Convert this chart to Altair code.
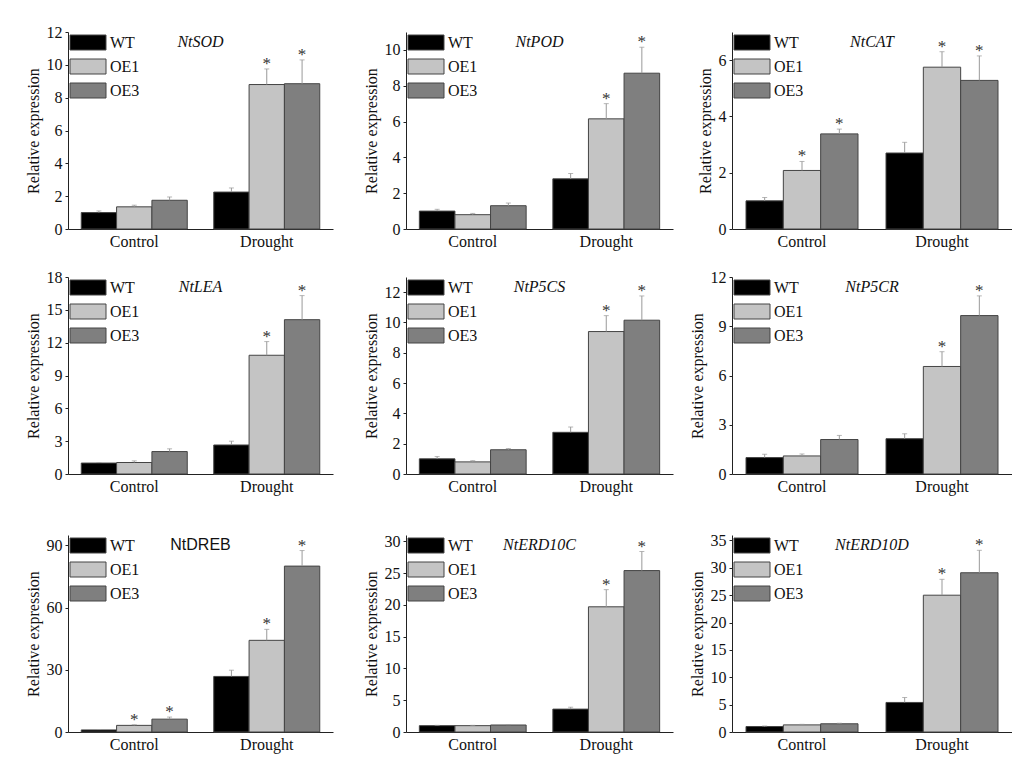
import altair as alt
import pandas as pd

genes = ["NtSOD", "NtPOD", "NtCAT", "NtLEA", "NtP5CS", "NtP5CR", "NtDREB", "NtERD10C", "NtERD10D"]
conditions = ["Control", "Drought"]
genotypes = ["WT", "OE1", "OE3"]
bar_colors = ["#000000", "#c4c4c4", "#7f7f7f"]

# order inside each list: Control WT, OE1, OE3, Drought WT, OE1, OE3
mean_vals = [
    [1.0, 1.35, 1.75, 2.25, 8.8, 8.85],
    [1.0, 0.8, 1.3, 2.8, 6.15, 8.7],
    [1.0, 2.08, 3.38, 2.7, 5.75, 5.28],
    [1.0, 1.05, 2.05, 2.65, 10.85, 14.1],
    [1.0, 0.8, 1.6, 2.75, 9.4, 10.15],
    [1.0, 1.1, 2.1, 2.15, 6.55, 9.65],
    [1.0, 3.2, 6.2, 26.8, 44.2, 80.0],
    [1.0, 1.0, 1.1, 3.6, 19.7, 25.4],
    [1.0, 1.3, 1.5, 5.4, 25.0, 29.1],
]
err_tops = [
    [1.1, 1.45, 1.95, 2.5, 9.75, 10.3],
    [1.1, 0.87, 1.45, 3.1, 7.0, 10.15],
    [1.12, 2.4, 3.55, 3.08, 6.3, 6.15],
    [1.05, 1.2, 2.3, 3.0, 12.1, 16.3],
    [1.15, 0.88, 1.68, 3.1, 10.45, 11.75],
    [1.2, 1.22, 2.35, 2.45, 7.45, 10.85],
    [1.2, 3.5, 7.2, 29.8, 49.5, 87.5],
    [1.05, 1.05, 1.15, 3.9, 22.4, 28.4],
    [1.1, 1.4, 1.6, 6.3, 27.9, 33.2],
]
stars = [
    [0, 0, 0, 0, 1, 1],
    [0, 0, 0, 0, 1, 1],
    [0, 1, 1, 0, 1, 1],
    [0, 0, 0, 0, 1, 1],
    [0, 0, 0, 0, 1, 1],
    [0, 0, 0, 0, 1, 1],
    [0, 1, 1, 0, 1, 1],
    [0, 0, 0, 0, 1, 1],
    [0, 0, 0, 0, 1, 1],
]
y_max = [12, 11, 7, 18, 13, 12, 95, 31, 36]
y_step = [2, 2, 2, 3, 2, 3, 30, 5, 5]

SERIF = "Liberation Serif"
PANEL_H = 197


def panel(i, width, extent):
    rows = []
    k = 0
    for c in conditions:
        for g in genotypes:
            rows.append({"cond": c, "geno": g, "mean": mean_vals[i][k],
                         "top": err_tops[i][k], "sig": stars[i][k]})
            k += 1
    df = pd.DataFrame(rows)
    base = alt.Chart(df)
    x = alt.X("cond:N", sort=conditions, title=None,
              scale=alt.Scale(paddingInner=0.2, paddingOuter=0.1),
              axis=alt.Axis(labelAngle=0, ticks=False, tickSize=0, labelPadding=4))
    xo = alt.XOffset("geno:N", sort=genotypes, scale=alt.Scale(paddingInner=0, paddingOuter=0))
    tick_vals = list(range(0, y_max[i] + 1, y_step[i]))
    y = alt.Y("mean:Q", title="Relative expression",
              scale=alt.Scale(domain=[0, y_max[i]], nice=False, zero=True),
              axis=alt.Axis(values=tick_vals, tickCount=len(tick_vals) + 2, format="d",
                            tickSize=3, labelPadding=3, titlePadding=5,
                            labelOverlap=False, labelSeparation=0,
                            minExtent=extent, maxExtent=extent))
    color = alt.Color("geno:N", sort=genotypes,
                      scale=alt.Scale(domain=genotypes, range=bar_colors),
                      legend=alt.Legend(title=None, orient="none", legendX=2, legendY=2.5,
                                        symbolType="M-2.4,-1H2.4V1H-2.4Z", symbolSize=225,
                                        symbolOffset=10, labelOffset=14, rowPadding=4,
                                        symbolStrokeColor="#444", symbolStrokeWidth=1,
                                        symbolOpacity=1, padding=0,
                                        labelFont=SERIF, labelFontSize=16, labelColor="#111"))
    bars = base.mark_bar(stroke="#444", strokeWidth=1, opacity=1).encode(
        x=x, xOffset=xo, y=y, color=color)
    err = base.mark_rule(color="#999", strokeWidth=1).encode(
        x=x, xOffset=xo, y="mean:Q", y2="top:Q")
    cap = base.mark_tick(color="#999", size=5, thickness=1).encode(
        x=x, xOffset=xo, y="top:Q")
    star = base.transform_filter("datum.sig == 1").mark_text(
        text="*", font=SERIF, fontSize=17, fill="#333", baseline="alphabetic").encode(
        x=x, xOffset=xo, y="top:Q")
    if genes[i] == "NtDREB":
        gfont, gstyle = "Liberation Sans", "normal"
    else:
        gfont, gstyle = SERIF, "italic"
    label = alt.Chart(pd.DataFrame({"g": [genes[i]]})).mark_text(
        font=gfont, fontStyle=gstyle, fontSize=16, fill="#111", baseline="middle").encode(
        text="g:N", x=alt.value(width / 2), y=alt.value(10))
    spacer = alt.Chart(pd.DataFrame({"s": ["0"]})).mark_text(
        fontSize=16, font=SERIF, opacity=0, baseline="middle").encode(
        text="s:N", x=alt.value(8), y=alt.value(0))
    return alt.layer(bars, err, cap, star, label, spacer).properties(width=width, height=PANEL_H)


def res(c):
    return c.resolve_scale(x="independent", y="independent", xOffset="independent",
                           color="independent").resolve_legend(color="independent")


W = [265, 267, 280]
E = 22
rows_charts = []
for r in range(3):
    e3 = 14 if r == 0 else E
    s_b = 24 if r == 0 else 16
    inner = res(alt.hconcat(panel(3 * r, W[0], E), panel(3 * r + 1, W[1], E), spacing=30))
    row = res(alt.hconcat(inner, panel(3 * r + 2, W[2], e3), spacing=s_b))
    rows_charts.append(row)

top2 = res(alt.vconcat(rows_charts[0], rows_charts[1], spacing=20))
chart = res(alt.vconcat(top2, rows_charts[2], spacing=33))

chart = chart.properties(
    padding={"left": 17, "top": 16, "right": 0, "bottom": 5},
    background="white",
).configure_view(stroke=None).configure_axis(
    domainColor="#222", tickColor="#222", labelColor="#111", titleColor="#111",
    labelFont=SERIF, titleFont=SERIF, labelFontSize=16, titleFontSize=16,
    titleFontWeight="normal", grid=False,
)

chart.save("out.html", embed_options={"renderer": "svg", "actions": False})
